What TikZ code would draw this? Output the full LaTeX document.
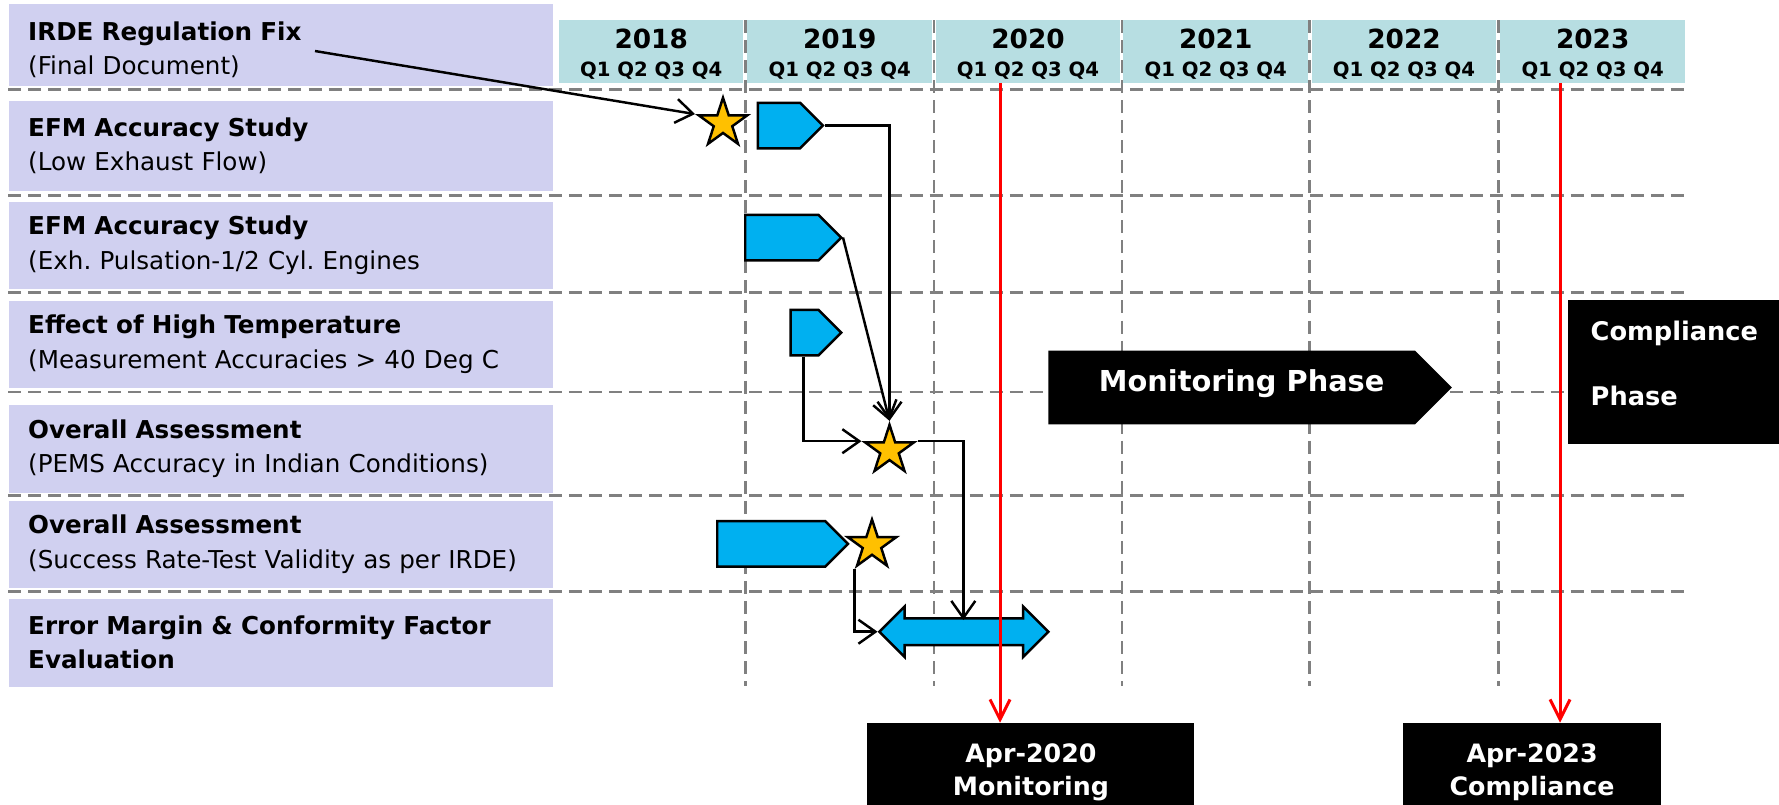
\documentclass[tikz,border=0pt]{standalone}
\usepackage{fontspec}
\setmainfont{DejaVu Sans}
\usetikzlibrary{arrows.meta,shapes.geometric,shapes.symbols,shapes.arrows}

\definecolor{rowlav}{RGB}{208,208,240}
\definecolor{yearteal}{RGB}{183,222,226}
\definecolor{barblue}{RGB}{0,176,240}
\definecolor{stargold}{RGB}{255,192,0}
\newcommand\qfont{\fontsize{5.6}{7}\selectfont}
\newcommand\yearlabel[1]{\rule{0pt}{0.25cm}#1\\{\qfont Q1 Q2 Q3 Q4}}
\frenchspacing

\tikzset{
	rowlabel/.style={fill=rowlav, anchor=north west, text width=5.05cm, inner xsep=0.195cm, inner ysep=0pt, minimum height=0.87cm, align=left, font=\fontsize{7}{9.7}\selectfont},
	yearbox/.style={fill=yearteal, minimum width=1.845cm, minimum height=0.63cm, inner sep=0pt, align=center, font=\bfseries\fontsize{7.5}{7.8}\selectfont},
	gridline/.style={color=black!50, line width=0.7pt, dash pattern=on 3.7pt off 2pt},
	taskbar/.style={signal, signal to=east, signal pointer angle=90, fill=barblue, draw=black, line width=0.7pt, inner sep=0pt, anchor=west, minimum height=0.455cm},
	milestone/.style={star, star points=5, star point ratio=2.618, fill=stargold, draw=black, line width=0.7pt, minimum size=0.51cm, inner sep=0pt},
	link/.style={line width=0.7pt, -{Straight Barb[length=1.7mm,width=2.4mm]}},
	deadline/.style={color=red, line width=0.85pt, -{Straight Barb[length=2mm,width=2mm]}},
	tagbox/.style={fill=black, text=white, anchor=north west, inner xsep=0pt, inner ysep=0.20cm, align=center, font=\bfseries\fontsize{7.2}{9.4}\selectfont},
}

\begin{document}
\begin{tikzpicture}[y=-1cm]
	%%%%% START %%%%%
	\useasboundingbox (0,0) rectangle (17.79,8.04);
	
	% dashed grid
	\draw[gridline] (0.08,0.895) -- (16.87,0.895);
	\draw[gridline] (0.08,1.955) -- (16.87,1.955);
	\draw[gridline] (0.08,2.925) -- (16.87,2.925);
	\draw[gridline] (0.08,3.92) -- (16.87,3.92);
	\draw[gridline] (0.08,4.955) -- (16.87,4.955);
	\draw[gridline] (0.08,5.915) -- (16.87,5.915);
	
	\draw[gridline] (7.455,0.20) -- (7.455,6.86);
	\draw[gridline] (9.34,0.20) -- (9.34,6.86);
	\draw[gridline] (11.22,0.20) -- (11.22,6.86);
	\draw[gridline] (13.095,0.20) -- (13.095,6.86);
	\draw[gridline] (14.985,0.20) -- (14.985,6.86);
	
	% years
	\node[yearbox] (y2018) at (6.512,0.515) {\yearlabel{2018}};
	\node[yearbox] (y2019) at (8.397,0.515) {\yearlabel{2019}};
	\node[yearbox] (y2020) at (10.28,0.515) {\yearlabel{2020}};
	\node[yearbox] (y2021) at (12.157,0.515) {\yearlabel{2021}};
	\node[yearbox] (y2022) at (14.04,0.515) {\yearlabel{2022}};
	\node[yearbox] (y2023) at (15.927,0.515) {\yearlabel{2023}};
	
	% activities
	\node[rowlabel, minimum height=0.82cm] (irde) at (0.08,0.03) {\rule{0pt}{0.29cm}\textbf{IRDE Regulation Fix}\\(Final Document)};
	\node[rowlabel, minimum height=0.90cm] (efmlow) at (0.08,1.00) {\textbf{EFM Accuracy Study}\\(Low Exhaust Flow)};
	\node[rowlabel] (efmpuls) at (0.08,2.01) {\textbf{EFM Accuracy Study}\\(Exh. Pulsation-1/2 Cyl. Engines};
	\node[rowlabel] (hightemp) at (0.08,3.00) {\textbf{Effect of High Temperature}\\(Measurement Accuracies > 40 Deg C};
	\node[rowlabel, minimum height=0.88cm] (pems) at (0.08,4.04) {\textbf{Overall Assessment}\\(PEMS Accuracy in Indian Conditions)};
	\node[rowlabel] (success) at (0.08,5.00) {\textbf{Overall Assessment}\\(Success Rate-Test Validity as per IRDE)};
	\node[rowlabel, minimum height=0.88cm] (errmargin) at (0.08,5.98) {\textbf{Error Margin \& Conformity Factor}\\\textbf{Evaluation}};
	
	% bars and milestones
	\node[taskbar, minimum width=0.65cm] (bar2) at (7.567,1.255) {};
	\node[taskbar, minimum width=0.96cm] (bar3) at (7.44,2.375) {};
	\node[taskbar, minimum width=0.507cm] (bar4) at (7.893,3.325) {};
	\node[taskbar, minimum width=1.307cm] (bar6) at (7.16,5.438) {};
	
	\node[milestone] (star2) at (7.23,1.232) {};
	\node[milestone] (star5) at (8.895,4.503) {};
	\node[milestone] (star6) at (8.72,5.45) {};
	
	\node[double arrow, double arrow head extend=0.1185cm, double arrow tip angle=90, minimum height=1.69cm, inner xsep=0pt, inner ysep=0.1215cm, fill=barblue, draw=black, line width=0.7pt] (errbar) at (9.638,6.317) {};
	
	% phases
	\node[taskbar, fill=black, draw=none, minimum width=4.036cm, minimum height=0.736cm, text depth=0.136cm, text=white, font=\bfseries\fontsize{8.2}{9}\selectfont] (monitor) at (10.47,3.875) {\hspace*{0.2cm}Monitoring Phase};
	\node[fill=black, text=white, anchor=north west, text width=1.74cm, inner xsep=0.23cm, minimum height=1.435cm, text depth=0.82cm, align=left, font=\bfseries\fontsize{7.3}{18.5}\selectfont] (compl) at (15.67,2.995) {Compliance\\Phase};
	
	\node[tagbox, minimum width=3.27cm] (apr20) at (8.667,7.227) {Apr-2020\\Monitoring};
	\node[tagbox, minimum width=2.573cm] (apr23) at (14.027,7.227) {Apr-2023\\Compliance};
	
	% links
	\coordinate (irdeout) at (3.15,0.51);
	\coordinate (evalin) at (9.633,6.20);
	\draw[link] (irdeout) -- (star2.outer point 2);
	\draw[link] (bar2.east) -| (star5.outer point 1);
	\draw[link] (bar3.east) -- (star5.outer point 1);
	\draw[link] (bar4.south -| 8.033,0) |- (star5.outer point 2);
	\draw[link] (star5.outer point 5) -| (evalin);
	\draw[link] (star6.outer point 3) |- (errbar.west);
	
	% deadlines
	\coordinate (q2y20) at (10.00,0.83);
	\coordinate (q2y23) at (15.60,0.83);
	\draw[deadline] (q2y20) -- (q2y20 |- apr20.north);
	\draw[deadline] (q2y23) -- (q2y23 |- apr23.north);
	
	%%%%% END %%%%%
\end{tikzpicture}
\end{document}
